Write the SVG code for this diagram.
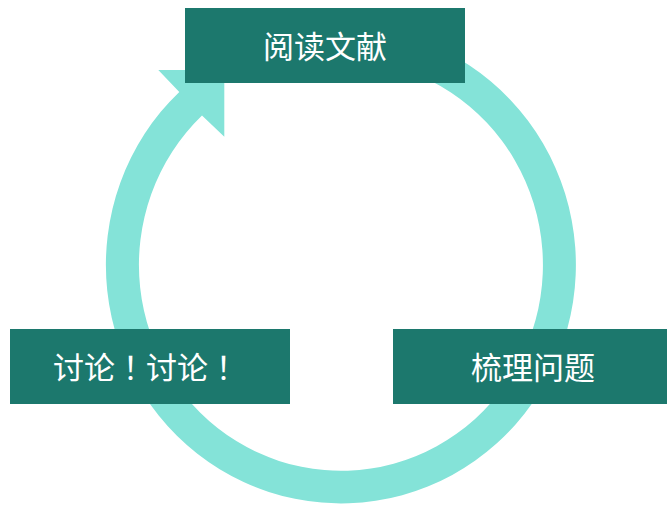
<svg xmlns="http://www.w3.org/2000/svg" width="667" height="505" viewBox="0 0 667 505">
<style>
.box{fill:#1C786D}
.lbl{fill:#FFFFFF;font-family:"Noto Sans CJK SC","Noto Sans",sans-serif;font-size:31px;text-anchor:middle}
.punc{font-family:"Noto Sans CJK TC","Noto Sans CJK SC",sans-serif}
.ring{fill:#84E3D8}
</style>
<rect width="667" height="505" fill="#FFFFFF"/>
<g id="connectors">
<path class="ring" d="M 341 26.6 A 235 238.4 0 1 1 179.3 91.9 L 158.3 70 L 224.3 70 L 224.3 136.7 L 202 115.6 A 202 205.8 0 1 0 341 59.2 Z"/>
</g>
<g id="node-read">
<rect class="box" x="185" y="8" width="280" height="75"/>
<text class="lbl" x="325" y="58">阅读文献</text>
</g>
<g id="node-sort">
<rect class="box" x="393" y="329" width="280" height="75"/>
<text class="lbl" x="533" y="379">梳理问题</text>
</g>
<g id="node-discuss">
<rect class="box" x="10" y="329" width="280" height="75"/>
<text class="lbl" x="146" y="379">讨论<tspan class="punc">！</tspan>讨论<tspan class="punc">！</tspan></text>
</g>
</svg>
